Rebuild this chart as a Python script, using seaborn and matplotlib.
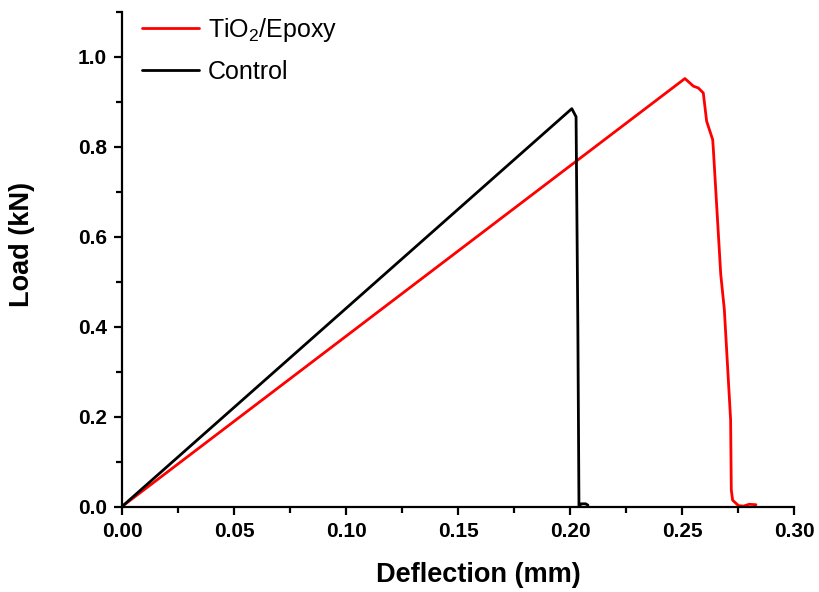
import matplotlib
matplotlib.use("Agg")
import matplotlib.pyplot as plt
from matplotlib.ticker import MultipleLocator, FormatStrFormatter
import seaborn as sns
import pandas as pd

# Load-deflection curves from the flexural test
tio2_deflection = [0.0, 0.2513, 0.2551, 0.2573, 0.2595, 0.2610, 0.2637, 0.2640,
                   0.2673, 0.2689, 0.2717, 0.2720, 0.2726, 0.2752, 0.2775,
                   0.2800, 0.2830]
tio2_load = [0.0, 0.952, 0.935, 0.931, 0.920, 0.857, 0.816, 0.794,
             0.516, 0.438, 0.193, 0.037, 0.014, 0.002, 0.001,
             0.005, 0.004]

control_deflection = [0.0, 0.2008, 0.2027, 0.2035, 0.2040, 0.2050, 0.2070, 0.2080]
control_load = [0.0, 0.885, 0.867, 0.400, 0.0, 0.006, 0.006, 0.003]

series_names = ["TiO$_2$/Epoxy", "Control"]
series_colors = ["#ff0000", "#000000"]

x_ticks = [0.00, 0.05, 0.10, 0.15, 0.20, 0.25, 0.30]
y_ticks = [0.0, 0.2, 0.4, 0.6, 0.8, 1.0]

df = pd.concat([
    pd.DataFrame({"Deflection": tio2_deflection, "Load": tio2_load,
                  "Sample": series_names[0], "order": range(len(tio2_load))}),
    pd.DataFrame({"Deflection": control_deflection, "Load": control_load,
                  "Sample": series_names[1], "order": range(len(control_load))}),
])

sns.set_style("ticks", {"text.color": "black", "axes.labelcolor": "black",
                        "xtick.color": "black", "ytick.color": "black",
                        "axes.edgecolor": "black"})
plt.rcParams["font.family"] = ["Liberation Sans", "DejaVu Sans"]
plt.rcParams["mathtext.fontset"] = "custom"
plt.rcParams["mathtext.rm"] = "Liberation Sans"

fig = plt.figure(figsize=(8.2, 5.92), dpi=100)
ax = fig.add_axes([0.1488, 0.1444, 0.8195, 0.8353])

sns.lineplot(data=df, x="Deflection", y="Load", hue="Sample", units="Sample",
             estimator=None, sort=False, palette=series_colors,
             hue_order=series_names, linewidth=2.0, ax=ax)

ax.set_xlim(0.0, 0.30)
ax.set_ylim(0.0, 1.1)
ax.set_xticks(x_ticks)
ax.set_yticks(y_ticks)
ax.xaxis.set_minor_locator(MultipleLocator(0.025))
ax.yaxis.set_minor_locator(MultipleLocator(0.1))
ax.xaxis.set_major_formatter(FormatStrFormatter("%.2f"))
ax.yaxis.set_major_formatter(FormatStrFormatter("%.1f"))

for side in ("top", "right"):
    ax.spines[side].set_visible(False)
for side in ("left", "bottom"):
    ax.spines[side].set_linewidth(1.6)

ax.tick_params(which="major", direction="out", length=6, width=1.6,
               labelsize=15, pad=5)
ax.tick_params(which="minor", direction="out", length=4, width=1.6)
for lbl in ax.get_xticklabels() + ax.get_yticklabels():
    lbl.set_fontweight("bold")

ax.set_xlabel("Deflection (mm)", fontsize=19.5, fontweight="bold")
ax.set_ylabel("Load (kN)", fontsize=19.5, fontweight="bold")
ax.xaxis.set_label_coords(0.531, -0.113)
ax.yaxis.set_label_coords(-0.129, 0.529)

leg = ax.legend(loc="upper left", bbox_to_anchor=(-0.004, 1.037), frameon=False,
                fontsize=18, handlelength=2.3, handletextpad=0.35,
                labelspacing=0.62)
for h in leg.get_lines():
    h.set_linewidth(2.0)

fig.savefig("out.png", dpi=100)
